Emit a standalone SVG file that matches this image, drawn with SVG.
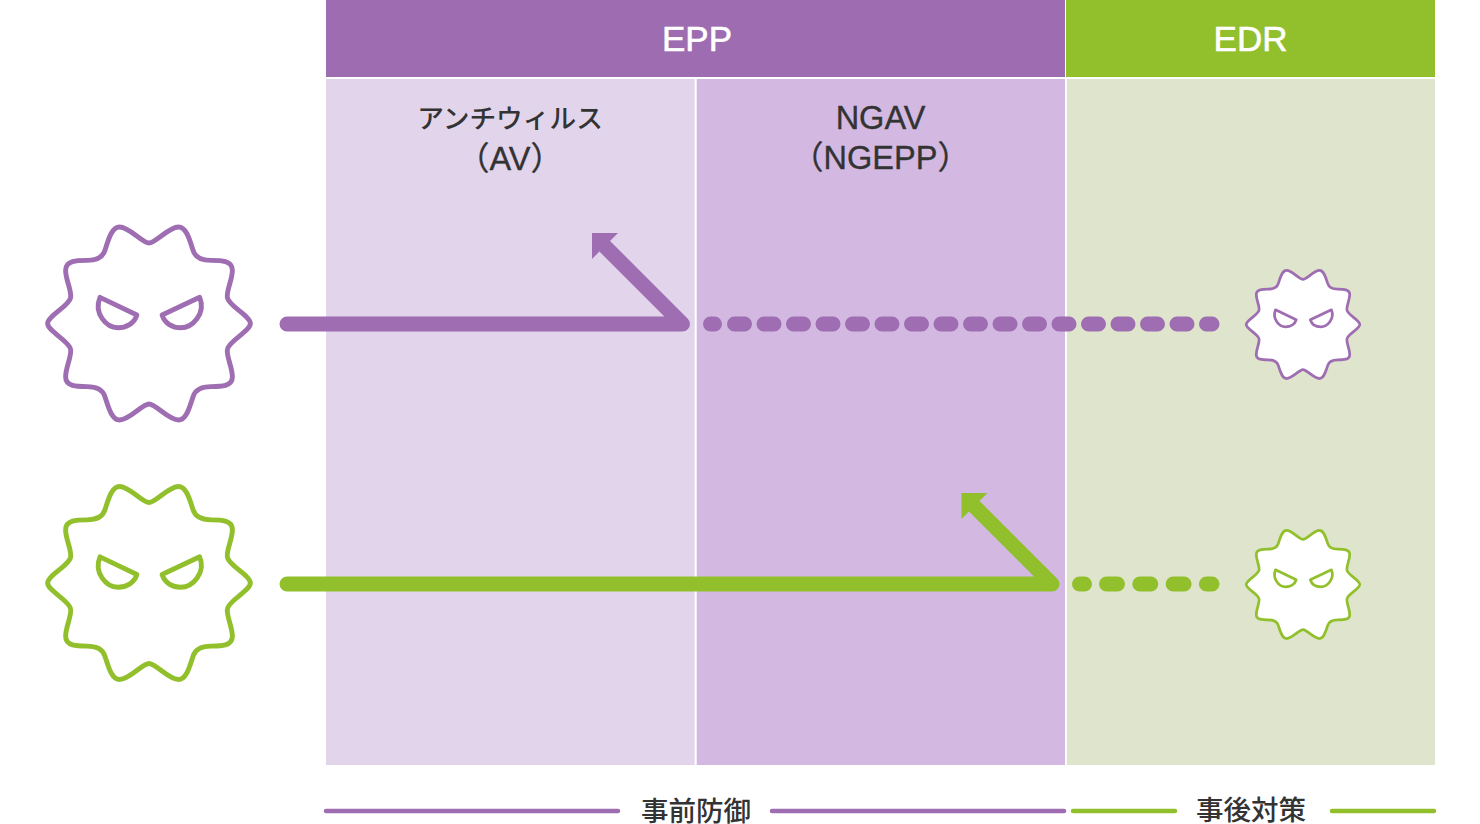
<svg xmlns="http://www.w3.org/2000/svg" width="1480" height="824" viewBox="0 0 1480 824">
<style>
text{text-anchor:middle;font-family:"Liberation Sans","Noto Sans CJK JP",sans-serif}
.hd{font-size:35px;fill:#fff;stroke:#fff;stroke-width:.6px}
.col{font-size:32.500px;fill:#333;stroke:#333;stroke-width:.35px}
.kana{font-size:26.700px;fill:#333;font-weight:500;font-family:"Noto Sans CJK JP",sans-serif}
.ft{font-size:27.500px;fill:#333;font-weight:500;font-family:"Noto Sans CJK JP",sans-serif}
.p{stroke:#9f6db1}
.g{stroke:#92c02d}
.line{fill:none;stroke-linecap:round;stroke-linejoin:round}
.germ{fill:#fff;stroke-linejoin:round}
.eye{fill:none;stroke-linejoin:round}
</style>
<defs>
<g id="germ">
<path class="germ" d="M0,-246C20,-246 60,-295 90,-295C115,-295 125,-253 135,-223C143,-198 165,-193 190,-193C220,-193 255,-193 255,-163C255,-133 235,-98 240,-78C245,-53 310,-23 310,0C310,23 245,53 240,78C235,98 255,133 255,163C255,193 220,193 190,193C165,193 143,198 135,223C125,253 115,295 90,295C60,295 20,246 0,246C-20,246 -60,295 -90,295C-115,295 -125,253 -135,223C-143,198 -165,193 -190,193C-220,193 -255,193 -255,163C-255,133 -235,98 -240,78C-245,53 -310,23 -310,0C-310,-23 -245,-53 -240,-78C-235,-98 -255,-133 -255,-163C-255,-193 -220,-193 -190,-193C-165,-193 -143,-198 -135,-223C-125,-253 -115,-295 -90,-295C-60,-295 -20,-246 0,-246Z"/>
<path class="eye" d="M-150,-80L-37,-26C-45,0 -70,13 -95,13C-130,13 -170,-30 -150,-80Z"/>
<path class="eye" d="M155,-80L40,-26C48,0 72,13 97,13C132,13 175,-30 155,-80Z"/>
</g>
</defs>
<g id="panels">
<rect x="326" y="0" width="739" height="77" fill="#9e6cb0"/>
<rect x="1066" y="0" width="369" height="77" fill="#92c02d"/>
<rect x="326" y="79" width="368.700" height="686" fill="#e2d5eb"/>
<rect x="696.700" y="79" width="368.300" height="686" fill="#d3b9e2"/>
<rect x="1066.800" y="79" width="368.200" height="686" fill="#dfe5cc"/>
</g>
<g id="epp"><text class="hd" x="697" y="51">EPP</text></g>
<g id="edr"><text class="hd" x="1250.500" y="51">EDR</text></g>
<g id="av"><text class="kana" x="510" y="128">アンチウィルス</text><text class="col" x="510" y="169.500">（AV）</text></g>
<g id="ngav"><text class="col" x="880.500" y="129">NGAV</text><text class="col" x="880.500" y="169">（NGEPP）</text></g>
<g id="connectors">
<path class="line p" stroke-width="15" d="M287,324H682.500L605,246.500"/>
<polygon points="592,233 618,233 592,259" fill="#9f6db1"/>
<path class="line p" stroke-width="15" d="M710.500,324H714.500"/>
<path class="line p" stroke-width="15" stroke-dasharray="10 19.500" d="M734.500,324H1212"/>
<path class="line g" stroke-width="15" d="M287,584H1052L974.500,506.500"/>
<polygon points="961.500,493 987.500,493 961.500,519" fill="#92c02d"/>
<path class="line g" stroke-width="15" stroke-dasharray="11 22.300" d="M1106.500,584H1212"/>
<path class="line g" stroke-width="15" d="M1079.500,584H1084.500"/>
<path class="line p" stroke-width="4.500" d="M326,811H618M772,811H1064"/>
<path class="line g" stroke-width="4.500" d="M1073,811H1175M1332,811H1434"/>
</g>
<g id="germ-purple-large" class="p" stroke-width="15" transform="translate(149,323.500) scale(.327)"><use href="#germ"/></g>
<g id="germ-green-large" class="g" stroke-width="15" transform="translate(149,583) scale(.327)"><use href="#germ"/></g>
<g id="germ-purple-small" class="p" stroke-width="15" transform="translate(1303,324.500) scale(.1833)"><use href="#germ"/></g>
<g id="germ-green-small" class="g" stroke-width="15" transform="translate(1303,584.500) scale(.1833)"><use href="#germ"/></g>
<g id="prevent"><text class="ft" x="696" y="821">事前防御</text></g>
<g id="respond"><text class="ft" x="1251" y="820">事後対策</text></g>
</svg>
